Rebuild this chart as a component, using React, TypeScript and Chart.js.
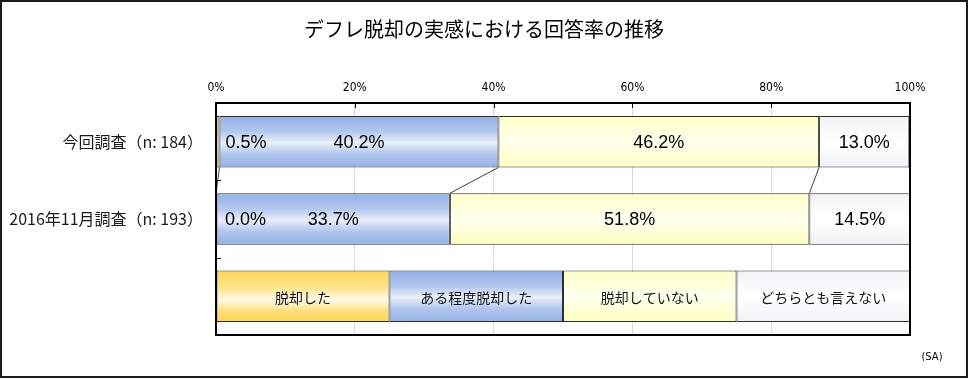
import React, { useEffect, useRef } from 'react';
import { Chart, registerables } from 'chart.js';

Chart.register(...registerables);

const chartTitle = 'デフレ脱却の実感における回答率の推移';
const noteText = '(SA)';
const categories = ['今回調査（n: 184）', '2016年11月調査（n: 193）', ''];
const seriesNames = ['脱却した', 'ある程度脱却した', '脱却していない', 'どちらとも言えない'];
const currentSurvey = [0.5, 40.2, 46.2, 13.0];
const previousSurvey = [0.0, 33.7, 51.8, 14.5];
const legendRow = [25, 25, 25, 25];
const xTickValues = [0, 20, 40, 60, 80, 100];

const baseColors = ['#FFD54F', '#95B3E7', '#FFFFCC', '#F3F5FA'];
const gradientStops: [number, string][][] = [
  [[0, '#FFD656'], [0.33, '#FFE38C'], [0.57, '#FFFAE8'], [0.78, '#FFE07F'], [1, '#FFD34D']],
  [[0, '#93B1E6'], [0.3, '#B2C6EE'], [0.52, '#EAF0FA'], [0.74, '#B2C6EE'], [1, '#93B1E6']],
  [[0, '#FFFFC6'], [0.5, '#FFFFEE'], [1, '#FFFFC2']],
  [[0, '#F1F3F9'], [0.5, '#FFFFFF'], [1, '#EFF2F8']],
];

const BAR_RATIO = 0.665;
const JP = "'Noto Sans CJK JP', 'Noto Sans', sans-serif";
const NUM = "'Liberation Sans', Arial, sans-serif";
const NARROW = "'Liberation Sans Narrow', 'DejaVu Sans Condensed', 'Liberation Sans', sans-serif";

function makeBg(seriesIndex: number) {
  return (ctx: any) => {
    const chart = ctx.chart;
    const ys = chart.scales && chart.scales.y;
    if (!ys || ctx.dataIndex === undefined || ys.bottom === undefined || !isFinite(ys.bottom)) {
      return baseColors[seriesIndex];
    }
    const c = ys.getPixelForValue(ctx.dataIndex);
    const catH = (ys.bottom - ys.top) / categories.length;
    const h = catH * BAR_RATIO;
    if (!isFinite(c) || !isFinite(h) || h <= 0) return baseColors[seriesIndex];
    const g = chart.ctx.createLinearGradient(0, c - h / 2, 0, c + h / 2);
    gradientStops[seriesIndex].forEach(([o, col]) => g.addColorStop(o, col));
    return g;
  };
}

const decorPlugin = {
  id: 'decor',
  beforeDraw(chart: any) {
    const { ctx, width, height } = chart;
    ctx.save();
    ctx.fillStyle = '#ffffff';
    ctx.fillRect(0, 0, width, height);
    ctx.restore();
  },
  afterDatasetsDraw(chart: any) {
    const ctx = chart.ctx;
    const ca = chart.chartArea;
    const xs = chart.scales.x;
    const ys = chart.scales.y;
    ctx.save();

    // series connector lines between the two survey bars
    ctx.strokeStyle = '#404040';
    ctx.lineWidth = 1;
    for (let k = 0; k < seriesNames.length - 1; k++) {
      const a = chart.getDatasetMeta(k).data[0];
      const b = chart.getDatasetMeta(k).data[1];
      if (!a || !b) continue;
      ctx.beginPath();
      ctx.moveTo(a.x, a.y + a.height / 2);
      ctx.lineTo(b.x, b.y - b.height / 2);
      ctx.stroke();
    }

    // value labels
    ctx.fillStyle = '#000000';
    ctx.textBaseline = 'middle';
    for (let i = 0; i < seriesNames.length; i++) {
      const meta = chart.getDatasetMeta(i);
      ctx.font = `18px ${NUM}`;
      ctx.fillStyle = '#000000';
      for (let j = 0; j < 2; j++) {
        const el = meta.data[j];
        const v = chart.data.datasets[i].data[j] as number;
        const txt = v.toFixed(1) + '%';
        if (i === 0) {
          ctx.textAlign = 'left';
          ctx.fillText(txt, Math.min(el.x, el.base) + 9, el.y + 1);
        } else {
          ctx.textAlign = 'center';
          ctx.fillText(txt, (el.x + el.base) / 2, el.y + 1);
        }
      }
      // legend row labels
      const le = meta.data[2];
      ctx.font = `14px ${JP}`;
      ctx.textAlign = 'center';
      ctx.fillStyle = '#111111';
      ctx.fillText(seriesNames[i], (le.x + le.base) / 2, le.y + 1);
    }

    // small tick marks below top border
    ctx.strokeStyle = '#000000';
    ctx.lineWidth = 1;
    xTickValues.forEach((v) => {
      if (v === 0 || v === 100) return;
      const x = Math.round(xs.getPixelForValue(v)) + 0.5;
      ctx.beginPath();
      ctx.moveTo(x, ca.top);
      ctx.lineTo(x, ca.top + 5);
      ctx.stroke();
    });
    // category boundary ticks on the left axis
    const catH = (ys.bottom - ys.top) / categories.length;
    for (let k = 1; k < categories.length; k++) {
      const y = Math.round(ca.top + k * catH) + 0.5;
      ctx.beginPath();
      ctx.moveTo(ca.left, y);
      ctx.lineTo(ca.left + 5, y);
      ctx.stroke();
    }

    // plot area border
    ctx.strokeStyle = '#000000';
    ctx.lineWidth = 2;
    ctx.strokeRect(ca.left, ca.top, ca.right - ca.left, ca.bottom - ca.top);
    ctx.restore();
  },
  afterDraw(chart: any) {
    const ctx = chart.ctx;
    const { width, height } = chart;
    ctx.save();
    ctx.fillStyle = '#000000';
    ctx.textAlign = 'center';
    ctx.textBaseline = 'middle';
    ctx.font = `20px ${JP}`;
    ctx.fillText(chartTitle, 484, 29);
    ctx.font = `11px ${NARROW}`;
    ctx.fillText(noteText, 932, 357);
    ctx.strokeStyle = '#1a1a1a';
    ctx.lineWidth = 2;
    ctx.strokeRect(1, 1, width - 3, height - 3);
    ctx.restore();
  },
};

export default function App() {
  const canvasRef = useRef<HTMLCanvasElement | null>(null);

  useEffect(() => {
    document.body.style.margin = '0';
    const canvas = canvasRef.current;
    if (!canvas) return;
    const datasets = seriesNames.map((name, i) => ({
      label: name,
      data: [currentSurvey[i], previousSurvey[i], legendRow[i]],
      backgroundColor: makeBg(i),
      borderColor: '#2e2e2e',
      borderWidth: 1,
      borderSkipped: false as any,
      barPercentage: BAR_RATIO,
      categoryPercentage: 1,
    }));

    const chart = new Chart(canvas, {
      type: 'bar',
      data: { labels: categories, datasets },
      plugins: [decorPlugin],
      options: {
        indexAxis: 'y',
        animation: false,
        responsive: true,
        maintainAspectRatio: false,
        layout: { padding: { top: 0, left: 0, right: 59, bottom: 44 } },
        plugins: {
          legend: { display: false },
          title: { display: false },
          tooltip: { enabled: false },
        },
        scales: {
          x: {
            position: 'top',
            stacked: true,
            min: 0,
            max: 100,
            afterBuildTicks: (scale: any) => {
              scale.ticks = xTickValues.map((v) => ({ value: v }));
            },
            ticks: {
              callback: (v: any) => v + '%',
              color: '#000000',
              font: { family: NARROW, size: 12 },
              padding: 8,
              maxRotation: 0,
              autoSkip: false,
            },
            grid: { color: '#d9d9d9', lineWidth: 1, drawTicks: false },
            border: { display: false },
            afterFit: (scale: any) => {
              scale.height = 103;
              scale.paddingLeft = 0;
              scale.paddingRight = 0;
            },
          },
          y: {
            stacked: true,
            ticks: {
              color: '#1a1a1a',
              font: { family: JP, size: 16 },
              padding: 13,
            },
            grid: { display: false, drawTicks: false },
            border: { display: false },
            afterFit: (scale: any) => {
              scale.width = 216;
              scale.paddingTop = 0;
              scale.paddingBottom = 0;
            },
          },
        },
      } as any,
    });
    return () => chart.destroy();
  }, []);

  return (
    <div style={{ position: 'fixed', left: 0, top: 0, width: 969, height: 379, background: '#fff' }}>
      <canvas ref={canvasRef} />
    </div>
  );
}
